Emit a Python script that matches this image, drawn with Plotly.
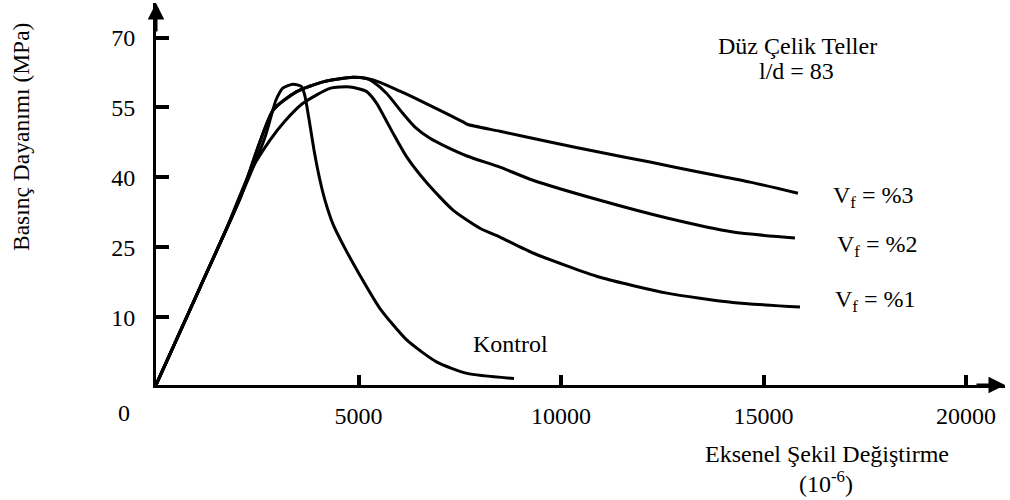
import plotly.graph_objects as go

# ---- data ----
kontrol_x = [0, 1086, 2074, 2691, 2864, 2963, 3136, 3383, 3592, 3679, 3802, 3901, 4049,
             4173, 4370, 4666, 5037, 5531, 6197, 6938, 7679, 8839]
kontrol_y = [-4.5, 16.4, 35.5, 48.6, 53.8, 56.6, 59.2, 60.0, 59.5, 57.4, 51.2, 45.9, 39.4,
             35.1, 30.0, 24.8, 19.0, 11.9, 5.1, 0.4, -2.0, -3.1]

vf3_x = [0, 1086, 2074, 2889, 3474, 4123, 4864, 5202, 5531, 6024, 6345, 7012, 7580, 7679,
         8493, 9728, 10962, 12197, 13431, 14666, 15851]
vf3_y = [-4.5, 16.4, 35.5, 54.4, 58.4, 60.5, 61.5, 61.2, 60.4, 58.5, 57.2, 54.4, 51.9, 51.4,
         49.9, 47.6, 45.4, 43.3, 41.1, 39.0, 36.6]

vf2_x = [0, 1086, 2074, 2889, 3474, 4123, 4864, 5202, 5358, 5696, 6098, 6395, 6765, 7185,
         7679, 8493, 9308, 10962, 12617, 14246, 15777]
vf2_y = [-4.5, 16.4, 35.5, 54.4, 58.4, 60.5, 61.5, 61.2, 60.5, 58.0, 53.7, 50.8, 48.4, 46.5,
         44.6, 42.2, 39.4, 35.1, 31.3, 28.3, 27.0]

vf1_x = [0, 1086, 1753, 2321, 2815, 3185, 3629, 4296, 4790, 5202, 5449, 5654, 5852, 6190,
         6691, 7333, 8000, 8493, 9308, 10962, 12617, 14246, 15900]
vf1_y = [-4.5, 16.4, 29.3, 41.1, 48.0, 52.1, 55.9, 59.1, 59.4, 58.4, 55.9, 52.7, 49.5, 44.4,
         38.8, 33.0, 29.1, 27.2, 23.8, 18.6, 15.2, 13.2, 12.2]

x_tickvals = [5000, 10000, 15000, 20000]
x_ticktext = ["5000", "10000", "15000", "20000"]
y_tickvals = [10, 25, 40, 55, 70]
y_ticktext = ["10", "25", "40", "55", "70"]

series = [
    ("Kontrol", kontrol_x, kontrol_y),
    ("V_f = %1", vf1_x, vf1_y),
    ("V_f = %2", vf2_x, vf2_y),
    ("V_f = %3", vf3_x, vf3_y),
]

FONT = "Liberation Serif"
FS = 24
W, H = 1010, 500
ML, MR, MT, MB = 156, 5, 3, 115
XR = [0, 20963]
YR = [-4.5, 77.4]

fig = go.Figure()
for name, xs, ys in series:
    fig.add_trace(go.Scatter(
        x=xs, y=ys, mode="lines", name=name,
        line=dict(color="black", width=3, shape="spline", smoothing=0.6),
        showlegend=False, hoverinfo="skip", cliponaxis=False,
    ))

pw = W - ML - MR
ph = H - MT - MB


def px(xp):
    return (xp - ML) / pw


def py(yp):
    return (H - MB - yp) / ph


def label(text, xp, yp, size=FS, angle=0):
    fig.add_annotation(text=text, x=px(xp), y=py(yp), xref="paper", yref="paper",
                       showarrow=False, textangle=angle,
                       font=dict(family=FONT, size=size, color="black"),
                       xanchor="center", yanchor="middle")


label("Düz Çelik Teller", 797, 46)
label("l/d = 83", 796, 71)
label("V<sub>f</sub> = %3", 873, 197)
label("V<sub>f</sub> = %2", 877, 246)
label("V<sub>f</sub> = %1", 875, 301)
label("Kontrol", 510, 344)
label("0", 124, 413)
label("Eksenel Şekil Değiştirme", 827, 454)
label("(10<sup>-6</sup>)", 826, 482)
label("Basınç Dayanımı (MPa)", 21, 137, size=23.5, angle=-90)

# axis arrowheads
fig.add_annotation(x=XR[1], y=YR[0], xref="x", yref="y", ax=-30, ay=0,
                   axref="pixel", ayref="pixel", showarrow=True, arrowhead=2,
                   arrowsize=1.1, arrowwidth=3, arrowcolor="black", text="")
fig.add_annotation(x=0, y=YR[1], xref="x", yref="y", ax=0, ay=30,
                   axref="pixel", ayref="pixel", showarrow=True, arrowhead=2,
                   arrowsize=1.1, arrowwidth=3, arrowcolor="black", text="")

fig.update_layout(
    width=W, height=H,
    margin=dict(l=ML, r=MR, t=MT, b=MB, pad=0),
    paper_bgcolor="white", plot_bgcolor="white",
    font=dict(family=FONT, size=FS, color="black"),
    xaxis=dict(range=XR, showgrid=False, zeroline=False, showline=True,
               linecolor="black", linewidth=3, ticks="inside", ticklen=10,
               tickwidth=4, tickcolor="black", tickvals=x_tickvals,
               ticktext=x_ticktext, ticklabelstandoff=7,
               tickfont=dict(family=FONT, size=FS)),
    yaxis=dict(range=YR, showgrid=False, zeroline=False, showline=True,
               linecolor="black", linewidth=3, ticks="inside", ticklen=13,
               tickwidth=3.5, tickcolor="black", tickvals=y_tickvals,
               ticktext=y_ticktext, ticklabelstandoff=13,
               tickfont=dict(family=FONT, size=FS)),
)

fig.write_html("out.html")
